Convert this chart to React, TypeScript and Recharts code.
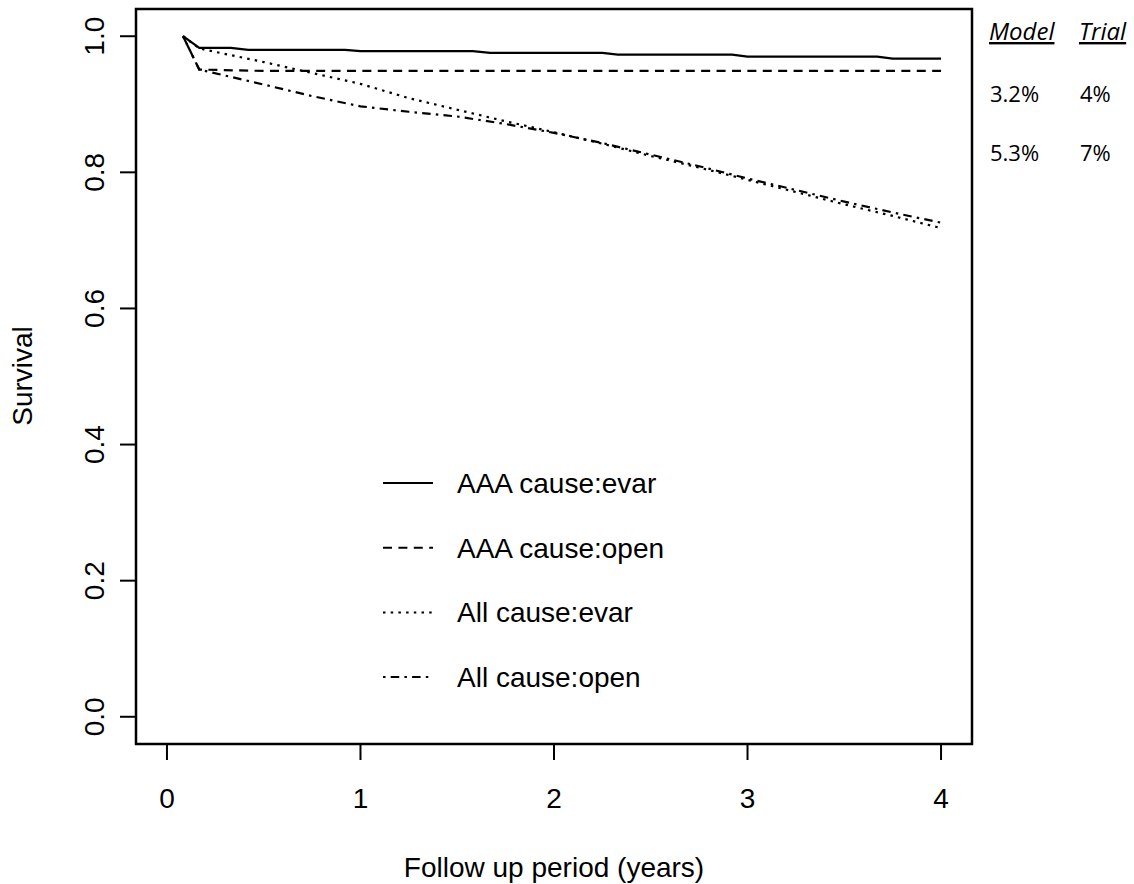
import { Legend, Line, LineChart, ReferenceArea, XAxis, YAxis } from "recharts";

// survival curves (years, survival probability)
const YEARS_AAA_EVAR = [0.083, 0.167, 0.33, 0.42, 0.92, 1.0, 1.58, 1.67, 2.25, 2.33, 2.92, 3.0, 3.67, 3.75, 4.0];
const SURV_AAA_EVAR = [1.0, 0.983, 0.983, 0.98, 0.98, 0.978, 0.978, 0.9755, 0.9755, 0.973, 0.973, 0.97, 0.97, 0.967, 0.967];

const YEARS_AAA_OPEN = [0.083, 0.167, 0.5, 4.0];
const SURV_AAA_OPEN = [1.0, 0.951, 0.949, 0.949];

const YEARS_ALL = [0.083, 0.167, 0.5, 0.75, 1.0, 1.25, 1.5, 1.75, 2.0, 2.25, 2.5, 2.75, 3.0, 3.25, 3.5, 3.75, 4.0];
const SURV_ALL_EVAR = [1.0, 0.982, 0.962, 0.946, 0.93, 0.909, 0.892, 0.875, 0.859, 0.842, 0.824, 0.807, 0.789, 0.771, 0.753, 0.736, 0.718];
const SURV_ALL_OPEN = [1.0, 0.951, 0.929, 0.912, 0.897, 0.889, 0.882, 0.871, 0.858, 0.843, 0.826, 0.809, 0.791, 0.774, 0.757, 0.741, 0.726];

const X_TICKS = [0, 1, 2, 3, 4];
const Y_TICKS = [0, 0.2, 0.4, 0.6, 0.8, 1.0];

const MODEL_PCT = ["3.2%", "5.3%"];
const TRIAL_PCT = ["4%", "7%"];

const FONT = "'Liberation Sans', Arial, Helvetica, sans-serif";
const NOTE_FONT = "'Open Sans', 'Noto Sans', sans-serif";

const toPoints = (xs: number[], ys: number[]) => xs.map((x, i) => ({ x, y: ys[i] }));

const SERIES = [
  { name: "AAA cause:evar", dash: undefined, data: toPoints(YEARS_AAA_EVAR, SURV_AAA_EVAR) },
  { name: "AAA cause:open", dash: "9 6.4", data: toPoints(YEARS_AAA_OPEN, SURV_AAA_OPEN) },
  { name: "All cause:evar", dash: "2.5 5.2", data: toPoints(YEARS_ALL, SURV_ALL_EVAR) },
  { name: "All cause:open", dash: "2.5 5.2 8.5 5.2", data: toPoints(YEARS_ALL, SURV_ALL_OPEN) },
];

const dashFor = (name: string) => SERIES.find((s) => s.name === name)?.dash;

function XTick({ x, y, payload }: any) {
  return (
    <text x={x} y={y + 48} textAnchor="middle" fontSize={28} fontFamily={FONT} fill="#000">
      {payload.value}
    </text>
  );
}

function YTick({ x, y, payload }: any) {
  const bx = x - 16;
  return (
    <text
      x={bx}
      y={y}
      transform={`rotate(-90, ${bx}, ${y})`}
      textAnchor="middle"
      fontSize={28}
      fontFamily={FONT}
      fill="#000"
    >
      {Number(payload.value).toFixed(1)}
    </text>
  );
}

function SurvivalLegend({ payload }: any) {
  const items = payload ?? [];
  return (
    <svg width={330} height={250} style={{ overflow: "visible" }}>
      {items.map((entry: any, i: number) => {
        const base = 33 + i * 64.7;
        return (
          <g key={entry.value}>
            <line
              x1={0}
              x2={50}
              y1={base - 10}
              y2={base - 10}
              stroke="#000"
              strokeWidth={2}
              strokeDasharray={dashFor(entry.value)}
            />
            <text x={74} y={base} fontSize={28} fontFamily={FONT} fill="#000">
              {entry.value}
            </text>
          </g>
        );
      })}
    </svg>
  );
}

export default function App() {
  return (
    <div style={{ position: "absolute", left: 0, top: 0, width: 1134, height: 884, background: "#fff" }}>
      <LineChart width={1134} height={884} margin={{ top: 9, right: 162, bottom: 0, left: 0 }}>
        <XAxis
          type="number"
          dataKey="x"
          domain={[-0.16, 4.16]}
          ticks={X_TICKS}
          interval={0}
          allowDataOverflow
          height={140}
          stroke="#000"
          axisLine={false}
          tickLine={{ stroke: "#000", strokeWidth: 2 }}
          tickSize={16}
          tickMargin={0}
          tick={(p: any) => <XTick {...p} />}
          label={() => (
            <text x={554} y={877} textAnchor="middle" fontSize={28} fontFamily={FONT} fill="#000">
              Follow up period (years)
            </text>
          )}
        />
        <YAxis
          type="number"
          domain={[-0.04, 1.04]}
          ticks={Y_TICKS}
          interval={0}
          allowDataOverflow
          width={136}
          stroke="#000"
          axisLine={false}
          tickLine={{ stroke: "#000", strokeWidth: 2 }}
          tickSize={16}
          tickMargin={0}
          tick={(p: any) => <YTick {...p} />}
          label={() => (
            <text
              x={32}
              y={376}
              transform="rotate(-90, 32, 376)"
              textAnchor="middle"
              fontSize={28}
              fontFamily={FONT}
              fill="#000"
            >
              Survival
            </text>
          )}
        />
        <ReferenceArea
          x1={-0.16}
          x2={4.16}
          y1={-0.04}
          y2={1.04}
          fill="none"
          fillOpacity={0}
          stroke="#000"
          strokeWidth={2.5}
          ifOverflow="visible"
        />
        {SERIES.map((s) => (
          <Line
            key={s.name}
            data={s.data}
            dataKey="y"
            name={s.name}
            type="linear"
            stroke="#000"
            strokeWidth={2.2}
            strokeDasharray={s.dash}
            dot={false}
            activeDot={false}
            isAnimationActive={false}
          />
        ))}
        <Legend
          layout="vertical"
          align="center"
          verticalAlign="middle"
          content={(p: any) => <SurvivalLegend payload={p.payload} />}
          wrapperStyle={{ left: 383, top: 460, width: 330, height: 250 }}
        />
      </LineChart>
      <svg
        width={1134}
        height={200}
        style={{ position: "absolute", left: 0, top: 0, pointerEvents: "none" }}
      >
        <text x={989} y={40} fontSize={24} fontStyle="italic" textDecoration="underline" fontFamily={NOTE_FONT} fill="#000">
          Model
        </text>
        <text x={1079} y={40} fontSize={24} fontStyle="italic" textDecoration="underline" fontFamily={NOTE_FONT} fill="#000">
          Trial
        </text>
        {MODEL_PCT.map((v, i) => (
          <text key={v} x={990} y={102 + i * 59} fontSize={22} fontFamily={NOTE_FONT} fill="#000">
            {v}
          </text>
        ))}
        {TRIAL_PCT.map((v, i) => (
          <text key={v} x={1080} y={102 + i * 59} fontSize={22} fontFamily={NOTE_FONT} fill="#000">
            {v}
          </text>
        ))}
      </svg>
    </div>
  );
}
